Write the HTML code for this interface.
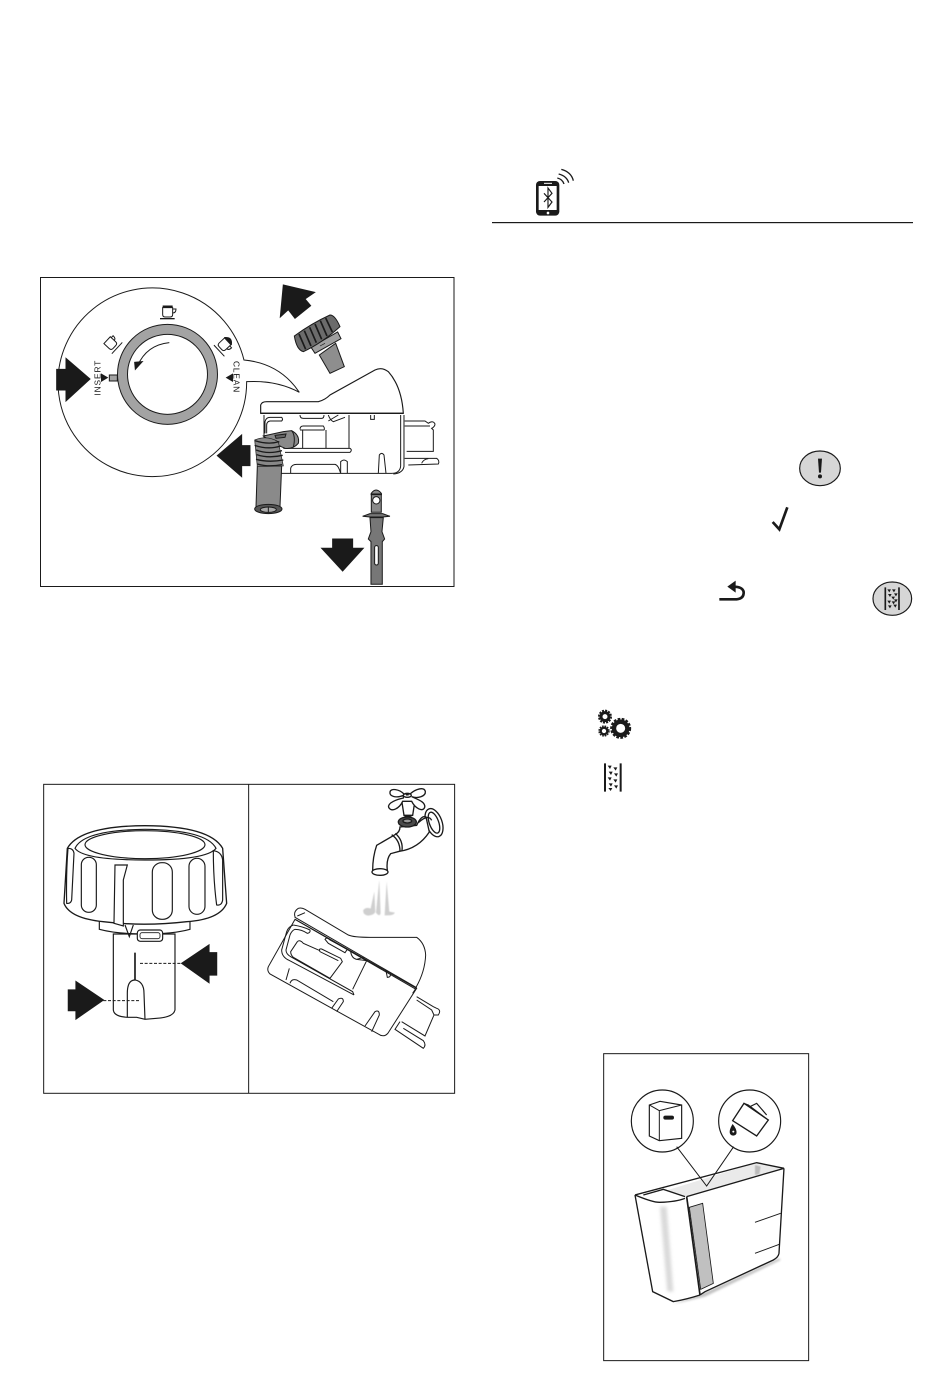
<!DOCTYPE html>
<html><head><meta charset="utf-8"><style>
html,body{margin:0;padding:0;background:#fff}
svg{display:block}
text{font-family:"Liberation Sans",sans-serif;fill:#1a1a1a}
</style></head><body>
<svg width="950" height="1374" viewBox="0 0 950 1374" xmlns="http://www.w3.org/2000/svg">
<defs><filter id="b" x="-100%" y="-20%" width="300%" height="140%"><feGaussianBlur stdDeviation="5"/></filter>
<filter id="b2" x="-30%" y="-30%" width="160%" height="160%"><feGaussianBlur stdDeviation="3"/></filter>
<filter id="b3" x="-30%" y="-30%" width="160%" height="160%"><feGaussianBlur stdDeviation="1.5"/></filter></defs>
<rect width="950" height="1374" fill="#fff"/>

<!-- Header icon -->
<g transform="translate(490,160) scale(.3333)" fill="none" stroke="#1a1a1a">
<rect x="138" y="63" width="70" height="104" rx="12" fill="#1a1a1a" stroke="none"/>
<rect x="146" y="78" width="54" height="72" fill="#fff" stroke="none"/>
<path d="M162 70H186" stroke="#fff" stroke-width="3"/>
<circle cx="174" cy="159" r="4" fill="#fff" stroke="none"/>
<path d="M162 100L186 126L174 142V84L186 100L162 126" stroke-width="3.5"/>
<path d="M202 54Q218 58 222 72M206 42Q230 48 236 68M214 28Q244 36 250 62" stroke-width="4"/>
</g>
<rect x="492" y="222" width="421" height="1.2" fill="#1a1a1a"/>

<!-- Right-column icons -->
<g transform="translate(700,440) scale(.3333)">
<ellipse cx="360" cy="85" rx="61" ry="52" fill="#d6d6d6" stroke="#1a1a1a" stroke-width="3.5"/>
<path d="M354 56H366L363 98H357Z" fill="#1a1a1a"/><circle cx="360" cy="109" r="6" fill="#1a1a1a"/>
<path d="M218 246L238 268L262 202" fill="none" stroke="#1a1a1a" stroke-width="8"/>
<path d="M58 478H110Q132 476 131 456Q128 440 100 440" fill="none" stroke="#1a1a1a" stroke-width="8"/>
<path d="M82 440L107 422V458Z" fill="#1a1a1a"/>
<ellipse cx="577" cy="476" rx="58" ry="50" fill="#d6d6d6" stroke="#1a1a1a" stroke-width="3.5"/>
<path d="M556 442V510M597 442V510" stroke="#1a1a1a" stroke-width="5"/>
<g fill="#1a1a1a"><path d="M562 448l11 0l-5 9zM576 448l11 0l-5 9zM582 460l11 0l-5 9zM564 462l11 0l-5 9zM574 470l11 0l-5 9zM562 482l11 0l-5 9zM575 484l11 0l-5 9zM582 478l11 0l-5 9zM564 496l11 0l-5 9zM580 494l11 0l-5 9z"/></g>
</g>
<g transform="translate(590,700) scale(.3333)" fill="none" stroke="#1a1a1a">
<circle cx="92" cy="85" r="20" stroke-width="13"/><circle cx="92" cy="85" r="28" stroke-width="7" stroke-dasharray="8 4.2"/>
<circle cx="45" cy="50" r="12" stroke-width="9"/><circle cx="45" cy="50" r="18" stroke-width="6" stroke-dasharray="6 3.4"/>
<circle cx="42" cy="93" r="10" stroke-width="7"/><circle cx="42" cy="93" r="15" stroke-width="4" stroke-dasharray="5 3"/>
<path d="M45 190V275M92 190V275" stroke-width="6"/>
<path d="M53 197l12 0l-5 10zM70 202l12 0l-5 10zM56 215l12 0l-5 10zM72 220l12 0l-5 10zM53 232l12 0l-5 10zM70 238l12 0l-5 10zM56 250l12 0l-5 10zM72 256l12 0l-5 10zM55 264l12 0l-5 9z" fill="#1a1a1a" stroke="none"/>
</g>

<!-- Figure 1 -->
<rect x="40.5" y="277.5" width="413.5" height="309" fill="none" stroke="#1a1a1a" stroke-width="1"/>
<g transform="translate(40,275) scale(.3333)" stroke="#1a1a1a" stroke-width="3" fill="none">
<path d="M612 255Q720 265 778 352Q710 315 620 320A283 283 0 1 1 612 255Z" fill="#fff"/>
<path d="M50 283H78V250L150 312L78 378V345H50Z" fill="#1a1a1a"/>
<path d="M730 30L824 52L795 72L812 92L765 130L745 104L721 126Z" fill="#1a1a1a"/>
<path d="M532 542L605 480V512H630V572H605V605Z" fill="#1a1a1a"/>
<path d="M878 792H938V820H970L908 888L845 820H878Z" fill="#1a1a1a"/>
</g>

<!-- dial -->
<g transform="translate(90,295) scale(.3333)" stroke="#1a1a1a" stroke-width="3" fill="none">
<circle cx="232.5" cy="238" r="135" stroke="#a3a3a3" stroke-width="30"/>
<circle cx="232.5" cy="238" r="150"/><circle cx="232.5" cy="238" r="120"/>
<path d="M238 143Q170 150 143 212"/><path d="M136 223L134 202L157 200Z" fill="#1a1a1a"/>
<rect x="58" y="240" width="24" height="18" fill="#a3a3a3"/>
<path d="M33 235L55 248L33 261Z" fill="#1a1a1a" stroke="none"/>
<path d="M429 235L407 248L429 261Z" fill="#1a1a1a" stroke="none"/>
<g stroke="none"><text transform="translate(31,302) rotate(-90)" font-size="25" letter-spacing="2.8">INSERT</text>
<text transform="translate(431,198) rotate(90)" font-size="25" letter-spacing="2.6">CLEAN</text></g>
<path d="M218 38H248V58Q248 66 240 66H226Q218 66 218 58Z"/><path d="M248 42H258Q258 54 248 54"/><path d="M218 35H248" stroke-width="7"/><path d="M210 71H254" stroke-width="4"/>
<g transform="rotate(-47 63 145)"><path d="M48 130H76V152Q76 160 68 160H56Q48 160 48 152Z"/><path d="M76 134H84Q84 146 76 146"/><path d="M42 168H88" stroke-width="3"/></g>
<g transform="rotate(47 403 150)"><path d="M388 135H416V157Q416 165 408 165H396Q388 165 388 157Z"/><path d="M416 140H424Q424 152 416 152"/><path d="M388 133Q402 116 416 133Z" fill="#1a1a1a"/><path d="M382 173H428"/></g>
</g>

<!-- knob exploded -->
<g transform="translate(285,310) scale(.3333)" stroke="#1a1a1a" stroke-width="3">
<path d="M103 135L152 100L178 170L135 190Z" fill="#8e8e8e"/>
<path d="M78 112L158 66L168 86L90 130Z" fill="#a0a0a0"/>
<path d="M28 78Q80 40 135 15Q150 15 165 50Q110 100 55 125Q35 120 28 78Z" fill="#6b6b6b"/>
<g stroke="#1a1a1a" stroke-width="5" fill="none"><path d="M42 72L62 118M58 62L78 108M74 52L94 98M90 42L110 88M106 32L126 78M122 24L142 66"/></g>
<path d="M105 108L120 100" stroke-width="2" fill="none"/>
</g>

<!-- container -->
<g transform="translate(250,360) scale(.3333)" stroke="#1a1a1a" stroke-width="3" fill="none">
<path d="M42 165V340H425Q450 340 452 318V165" fill="#fff"/>
<path d="M32 160V135Q35 125 50 125H205Q225 120 240 105L375 30Q395 20 415 35Q455 80 460 160Z" fill="#fff" stroke-width="3.5"/>
<path d="M32 160H460" stroke-width="4"/>
<path d="M462 165V320Q458 340 430 342"/>
<path d="M297 165V265"/>
<path d="M45 220V185Q48 172 60 172H95Q100 178 95 183H60Q50 185 50 195V220"/>
<path d="M150 165Q150 175 160 175H215Q222 175 222 165"/>
<path d="M235 165Q240 180 250 185L285 172M235 183L265 165"/>
<path d="M362 165V178H373V165"/>
<path d="M150 208Q150 198 160 198H220Q225 205 222 210H150"/>
<path d="M158 210V265M228 210V265"/>
<path d="M100 265H300Q308 270 300 277H105"/>
<path d="M122 340V325Q125 313 140 313H255Q265 315 272 340"/>
<path d="M272 340V305Q282 295 292 305V340"/>
<path d="M385 340L388 285Q395 275 402 285L408 340"/>
<path d="M464 183H525L535 190Q550 180 555 192Q555 200 545 205L550 210V274H470"/>
<path d="M464 198H540"/>
<path d="M464 295H560Q570 302 565 312L475 315"/>
<path d="M515 310Q520 298 535 296"/>
<path d="M40 228L100 215L125 212Q150 225 145 250Q130 268 105 265L70 250Z" fill="#8a8a8a"/>
<path d="M125 212Q138 228 130 262" stroke-width="3"/>
<path d="M75 226L108 222L105 232L78 235Z" fill="#666"/>
<path d="M22 318H95L90 440H18Z" fill="#8a8a8a"/>
<path d="M14 240Q50 225 85 245L100 318L22 320Z" fill="#888" stroke-width="2"/>
<g stroke-width="4"><path d="M14 242Q55 255 88 245M14 256Q55 270 92 258M18 270Q55 284 96 272M20 284Q55 296 98 286M18 298Q55 308 100 300M22 312Q55 322 96 314"/></g>
<ellipse cx="55" cy="447" rx="41" ry="14" fill="#555"/><ellipse cx="55" cy="449" rx="24" ry="8" fill="#aaa"/>
<path d="M55 441V457" stroke-width="3"/>
</g>

<!-- rod -->
<g transform="translate(40,275) scale(.3333)" stroke="#1a1a1a" stroke-width="3">
<path d="M994 712V655Q1008 635 1024 655V712Z" fill="#8a8a8a"/>
<circle cx="1009" cy="676" r="11" fill="#fff" stroke-width="3"/>
<path d="M992 658H1026" stroke-width="5"/>
<path d="M968 724L990 716H1028L1050 724L1028 726H990Z" fill="#777"/>
<path d="M990 728H1030L1026 770L1034 792L1027 800V928H993V800L985 792L993 770Z" fill="#777"/>
<rect x="1004" y="812" width="11" height="58" rx="5" fill="#fff"/>
</g>

<!-- Figure 2 -->
<g transform="translate(40,780) scale(.3333)" stroke="#1a1a1a" fill="none" stroke-width="3.5">
<rect x="11" y="13" width="1233" height="927" stroke-width="3"/>
<path d="M626 13V940" stroke-width="3"/>
<path d="M178 420H450V448Q400 462 315 462Q230 462 178 448Z" fill="#fff"/>
<path d="M220 462H405V690Q400 712 350 715L315 718L290 712L262 712Q222 710 220 690Z" fill="#fff"/>
<path d="M82 205Q120 138 315 137Q510 138 548 205L560 370Q540 418 440 425Q310 440 190 425Q90 415 72 370Z" fill="#fff" stroke-width="4"/>
<path d="M105 205Q130 150 315 148Q500 150 528 205Q500 240 315 240Q130 240 105 205Z"/>
<ellipse cx="315" cy="194" rx="180" ry="42"/>
<rect x="337" y="248" width="60" height="170" rx="28"/>
<rect x="447" y="235" width="48" height="168" rx="24"/>
<rect x="124" y="232" width="45" height="165" rx="22"/>
<path d="M520 212Q545 215 548 240L548 360Q545 378 530 375Q520 300 520 212Z"/>
<path d="M84 205Q100 205 102 220L95 360Q92 372 80 370Q78 280 84 205Z"/>
<path d="M225 255H262L250 300V438L222 430Z" fill="#fff"/>
<path d="M255 435L268 470L280 435"/>
<rect x="292" y="450" width="76" height="34" rx="9" fill="#fff"/><rect x="300" y="458" width="60" height="18" rx="6" stroke-width="2.5"/>
<path d="M285 518V600" stroke-width="5"/>
<path d="M262 712V640Q262 600 285 600Q312 605 312 640L315 718"/>
<path d="M300 550H430M190 662H300" stroke-width="3" stroke-dasharray="9 5"/>
<path d="M425 550L507 495V518H530V585H507V608Z" fill="#1a1a1a"/>
<path d="M190 660L108 605V630H85V692H108V717Z" fill="#1a1a1a"/>
<path d="M1003 335L1006 396Q1002 405 985 407Q968 405 970 390Q980 380 992 386ZM1018 300L1022 400Q1018 412 1008 398ZM1040 305L1048 395L1065 398Q1060 408 1034 406Z" fill="#cfcfcf" stroke="none" filter="url(#b3)"/>
</g>

<!-- faucet -->
<g transform="translate(360,782) scale(.3333)" stroke="#1a1a1a" fill="#fff" stroke-width="4">
<ellipse cx="222" cy="122" rx="24" ry="44" transform="rotate(-20 222 122)"/>
<ellipse cx="222" cy="122" rx="14" ry="33" transform="rotate(-20 222 122)"/>
<path d="M120 135Q120 150 105 158L50 190Q38 225 38 265H82Q78 232 92 215L118 208Q175 200 208 150L198 105Q185 98 170 130Z"/>
<path d="M95 158Q120 175 120 208M106 154Q130 175 126 206" fill="none"/>
<path d="M175 122Q205 95 215 115" fill="none"/>
<ellipse cx="60" cy="270" rx="24" ry="10"/>
<path d="M125 55H165L158 100H132Z"/>
<ellipse cx="142" cy="120" rx="27" ry="15" fill="#4a4a4a"/>
<ellipse cx="142" cy="117" rx="13" ry="6" fill="#999"/>
<path d="M132 100Q142 108 158 100" fill="none"/>
<path d="M130 40C105 50 88 42 90 30C92 17 118 22 132 36L150 36C168 20 192 14 196 28C198 44 172 50 155 44C172 52 198 60 194 76C188 92 165 78 155 58H128C118 80 94 92 86 76C82 62 112 52 130 48Z"/>
<ellipse cx="142" cy="40" rx="12" ry="6" fill="none"/>
<path d="M138 38H146" stroke-width="5"/>
</g>

<!-- tilted container -->
<g transform="translate(260,900) scale(.3333)" stroke="#1a1a1a" fill="none" stroke-width="3">
<path d="M105 58L25 200Q20 212 30 222L360 405Q375 412 385 398L470 265Z" fill="#fff"/>
<path d="M105 50Q100 35 115 25Q125 22 135 28L265 105Q280 112 330 112H470Q495 130 497 165Q495 215 468 262L105 52Z" fill="#fff"/>
<path d="M112 48L135 38M105 58L468 268" />
<path d="M470 262L458 280"/>
<path d="M100 75Q85 80 80 95L65 150Q65 170 85 180L282 285"/>
<path d="M100 75Q130 80 150 90Q152 98 142 100Q125 88 105 88Q95 92 90 105L78 150Q78 162 92 170L278 275L282 285"/>
<path d="M112 125L92 155Q92 165 100 172L210 235L247 185L242 175L185 147Q175 145 180 155L235 182M112 125Q120 118 130 130L180 152"/>
<path d="M195 118Q200 110 210 120L262 148L255 158L205 130Z"/>
<path d="M272 155Q275 175 290 178L320 182L278 268M275 155L320 182M290 178L312 172"/>
<path d="M378 212L382 232Q392 232 392 222"/>
<path d="M78 240L88 205M90 250Q95 235 110 240L220 305M215 325L235 297Q250 290 250 305L230 335"/>
<path d="M315 378L345 335Q358 328 358 345L335 395"/>
<path d="M470 290L520 320L530 325Q545 330 535 345L522 345L495 408L425 365M470 300L515 330L522 345"/>
<path d="M420 365L405 388L490 445Q500 435 490 422L430 385"/>
</g>

<!-- Figure 3 -->
<g transform="translate(600,1050) scale(.3333)" stroke="#1a1a1a" fill="none" stroke-width="3.5">
<rect x="11" y="11" width="615" height="921" stroke-width="3"/>
<circle cx="187" cy="213" r="93"/><circle cx="449" cy="213" r="93"/>
<path d="M148 165L180 154L245 165V265L178 272L148 258Z"/><path d="M148 165L178 182V272M178 182L245 165" stroke-width="3"/>
<rect x="190" y="197" width="32" height="12" rx="6" fill="#1a1a1a" stroke="none"/>
<path d="M432 160L505 210L470 258L398 212Z" stroke-width="4"/><path d="M432 160L445 165L505 210" stroke-width="3"/>
<path d="M450 170L470 160L500 195"/>
<path d="M398 225C388 242 388 255 400 255C412 255 410 240 398 225Z" fill="#1a1a1a"/><circle cx="400" cy="245" r="3" fill="#fff" stroke="none"/>
</g>
<g transform="translate(630,1150) scale(.3333)" stroke="#1a1a1a" fill="none" stroke-width="4">
<path d="M230 425L447 325L452 330L225 440L130 462Z" fill="#999" stroke="none" filter="url(#b2)" opacity=".6"/>
<path d="M108 122L380 38L462 55L170 140Z" fill="#eaeaea" stroke="none"/>
<path d="M375 45L392 50L388 72L375 75Z" fill="#bbb" stroke="none" filter="url(#b3)"/>
<path d="M462 55L447 310Q445 322 430 330L225 425L210 435L170 140Z" fill="#fff" stroke="none"/>
<path d="M15 135L100 118L165 140L210 435L130 455L68 425Z" fill="#fff" stroke="none"/>
<path d="M90 170L110 170L130 425L112 425Z" fill="#bbb" filter="url(#b)" stroke="none" opacity=".55"/>
<path d="M-20 -10L-20 -10" />
<path d="M15 135L68 425L130 455Q170 448 210 435"/>
<path d="M15 135L380 38L462 55"/>
<path d="M170 140L462 55"/>
<path d="M40 135L100 118L165 140"/>
<path d="M15 135Q70 158 90 157Q140 155 165 145"/>
<path d="M462 55L447 310Q445 322 430 330L225 425L210 435"/>
<path d="M170 140L210 435" stroke-width="5"/>
<path d="M178 172L218 160L250 400L212 418Z" fill="#c0c0c0" stroke-width="2.5"/>
<path d="M375 217L452 190M375 310L448 283" stroke-width="3"/>
<path d="M140 -10L230 108L311 -10" stroke-width="3"/>
</g>
</svg>
</body></html>
